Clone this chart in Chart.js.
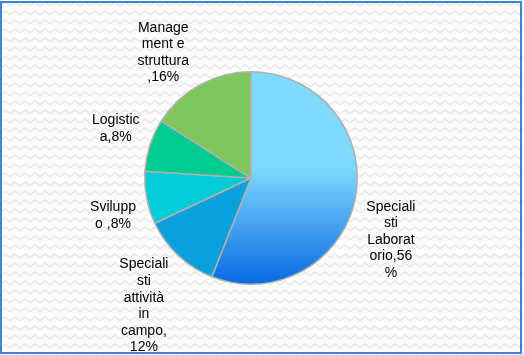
<!DOCTYPE html>
<html>
<head>
<meta charset="utf-8">
<script src="https://cdn.jsdelivr.net/npm/chart.js@4"></script>
<style>
    html, body { margin: 0; padding: 0; background: #ffffff; }
    canvas { display: block; }
</style>
</head>
<body>
<canvas id="chart" width="524" height="355"></canvas>
<script>
// slices, clockwise from 12 o'clock
const categories = [
    "Specialisti Laboratorio",
    "Specialisti attività in campo",
    "Sviluppo",
    "Logistica",
    "Management e struttura",
];
const shares = [56, 12, 8, 8, 16];

// data labels as they wrap in the original
const labelLines = [
    ["Speciali", "sti", "Laborat", "orio,56", "%"],
    ["Speciali", "sti", "attività", "in", "campo,", "12%"],
    ["Svilupp", "o ,8%"],
    ["Logistic", "a,8%"],
    ["Manage", "ment e", "struttura", ",16%"],
];

const sliceColors = [null, "#0aa0dc", "#00cdd8", "#00cc8f", "#7ec75c"];
// label placement: distance from centre (px) and angle shift (deg)
const labelPlace = [
    [153, 13.1],
    [167, -3.3],
    [143, -4.4],
    [144, 2.1],
    [153, -6.2],
];

const makePattern = (ctx) => {
    const c = document.createElement("canvas");
    c.width = 10;
    c.height = 9;
    const p = c.getContext("2d");
    p.fillStyle = "#fcfcfc";
    p.fillRect(0, 0, 10, 9);
    p.strokeStyle = "#e9e9e9";
    p.lineWidth = 1.4;
    p.beginPath();
    p.moveTo(0, 6);
    p.lineTo(5, 2);
    p.lineTo(10, 6);
    p.stroke();
    return ctx.createPattern(c, "repeat");
};

const backgroundPlugin = {
    id: "bgFrame",
    beforeDraw(chart) {
        const ctx = chart.ctx;
        ctx.save();
        ctx.fillStyle = makePattern(ctx);
        ctx.fillRect(0, 0, chart.width, chart.height);
        ctx.restore();
    },
    afterDraw(chart) {
        const ctx = chart.ctx;
        ctx.save();
        ctx.strokeStyle = "#3b86d6";
        ctx.lineWidth = 2;
        ctx.strokeRect(1, 2, 520, 351);
        ctx.restore();
    },
};

const labelPlugin = {
    id: "sliceLabels",
    afterDatasetsDraw(chart) {
        const ctx = chart.ctx;
        const arcs = chart.getDatasetMeta(0).data;
        ctx.save();
        ctx.font = "14px 'Liberation Sans', Arial, sans-serif";
        ctx.fillStyle = "#000000";
        ctx.textAlign = "center";
        ctx.textBaseline = "middle";
        const lh = 16.6;
        arcs.forEach((arc, i) => {
            const mid = (arc.startAngle + arc.endAngle) / 2 + labelPlace[i][1] * Math.PI / 180;
            const cx = arc.x + Math.cos(mid) * labelPlace[i][0];
            const cy = arc.y + Math.sin(mid) * labelPlace[i][0];
            const lines = labelLines[i];
            const top = cy - (lines.length - 1) * lh / 2;
            lines.forEach((t, j) => ctx.fillText(t, cx, top + j * lh));
        });
        ctx.restore();
    },
};

const data = {
    labels: categories,
    datasets: [
        {
            data: shares,
            backgroundColor: (c) => {
                const i = c.dataIndex;
                if (i !== 0) return sliceColors[i];
                const area = c.chart.chartArea;
                if (!area) return "#7fd9fe";
                const h = area.bottom - area.top;
                const g = c.chart.ctx.createLinearGradient(0, area.top + h * 0.45, 0, area.bottom);
                g.addColorStop(0, "#7fd9fe");
                g.addColorStop(1, "#066ae2");
                return g;
            },
            borderColor: "#b0b0b0",
            borderWidth: 1.5,
        },
    ],
};

const config = {
    type: "pie",
    data: data,
    options: {
        responsive: false,
        animation: false,
        layout: {
            padding: { left: 144, right: 166, top: 71, bottom: 70 },
        },
        plugins: {
            legend: { display: false },
            tooltip: { enabled: false },
        },
    },
    plugins: [backgroundPlugin, labelPlugin],
};

const myChart = new Chart(document.getElementById("chart"), config);
</script>
</body>
</html>
